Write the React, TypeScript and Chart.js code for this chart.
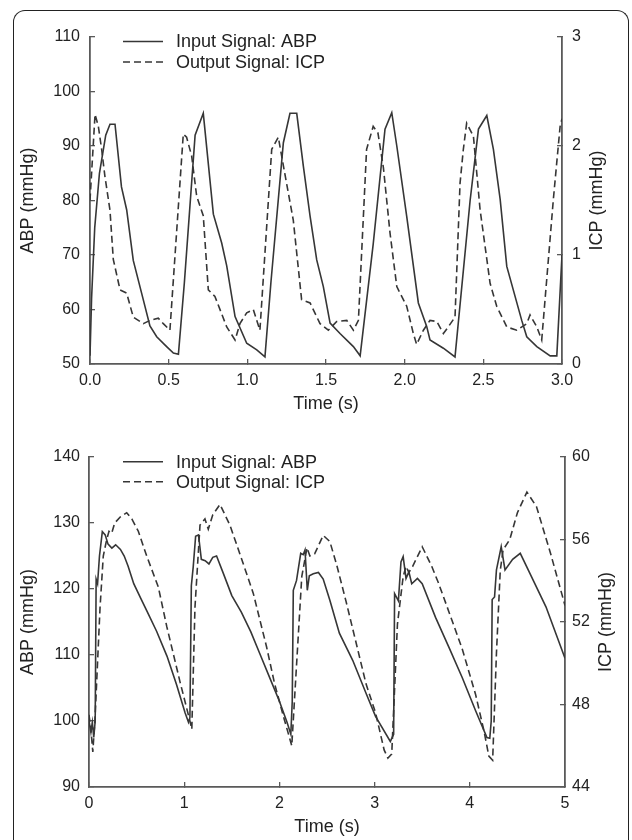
import React, { useEffect, useRef } from 'react';
import { Chart, registerables } from 'chart.js';

Chart.register(...registerables);

// ---------------- data ----------------
// Top panel: 0–3 s
const topAbpTime = [0.00, 0.01, 0.03, 0.06, 0.10, 0.127, 0.159, 0.20, 0.233, 0.275, 0.328, 0.381, 0.424, 0.487, 0.53, 0.562, 0.60, 0.668, 0.72, 0.784, 0.837, 0.869, 0.922, 0.996, 1.06, 1.112, 1.15, 1.229, 1.271, 1.314, 1.356, 1.399, 1.441, 1.483, 1.526, 1.589, 1.674, 1.717, 1.80, 1.875, 1.918, 1.95, 2.013, 2.087, 2.14, 2.161, 2.246, 2.32, 2.416, 2.469, 2.522, 2.564, 2.607, 2.649, 2.744, 2.776, 2.84, 2.925, 2.967, 3.0];
const topAbpValues = [51.5, 62, 75, 85, 92, 94, 94, 82.5, 78.3, 69, 63, 57, 55, 53.2, 52, 51.8, 65, 92, 96, 77.5, 72.2, 68, 58.7, 53.8, 52.6, 51.3, 65, 90.6, 96, 96, 86.3, 77.1, 69.1, 64.2, 57.5, 55.6, 53.2, 51.5, 72, 93.1, 96.1, 90, 77.1, 61.2, 56.9, 54.4, 52.9, 51.3, 80, 93.1, 95.6, 89.4, 80.2, 67.9, 58, 55, 53.2, 51.5, 51.5, 70];

const topIcpTime = [0, 0.032, 0.053, 0.074, 0.095, 0.127, 0.148, 0.191, 0.233, 0.275, 0.339, 0.381, 0.434, 0.466, 0.508, 0.593, 0.614, 0.646, 0.678, 0.72, 0.752, 0.794, 0.869, 0.922, 0.953, 0.996, 1.038, 1.08, 1.155, 1.197, 1.229, 1.292, 1.345, 1.399, 1.462, 1.515, 1.568, 1.632, 1.674, 1.706, 1.758, 1.80, 1.83, 1.865, 1.907, 1.95, 2.013, 2.055, 2.076, 2.119, 2.161, 2.204, 2.246, 2.277, 2.32, 2.352, 2.373, 2.394, 2.437, 2.479, 2.543, 2.585, 2.649, 2.712, 2.776, 2.797, 2.84, 2.871, 2.945, 2.988, 3.0];
const topIcpValues = [1.5, 2.29, 2.18, 1.97, 1.72, 1.41, 0.96, 0.68, 0.65, 0.43, 0.37, 0.40, 0.42, 0.37, 0.31, 2.11, 2.08, 1.91, 1.54, 1.36, 0.68, 0.62, 0.34, 0.22, 0.37, 0.47, 0.50, 0.31, 1.97, 2.08, 1.82, 1.32, 0.59, 0.56, 0.37, 0.31, 0.39, 0.40, 0.31, 0.40, 1.97, 2.18, 2.12, 1.8, 1.2, 0.71, 0.53, 0.28, 0.18, 0.31, 0.40, 0.39, 0.28, 0.34, 0.43, 1.66, 1.97, 2.21, 2.09, 1.42, 0.74, 0.53, 0.34, 0.31, 0.37, 0.45, 0.34, 0.22, 1.51, 2.18, 2.25];

// Bottom panel: 0–5 s
const botAbpTime = [0.00, 0.02, 0.035, 0.05, 0.065, 0.075, 0.09, 0.11, 0.14, 0.17, 0.20, 0.24, 0.28, 0.33, 0.37, 0.41, 0.47, 0.54, 0.61, 0.71, 0.82, 0.92, 1.01, 1.045, 1.06, 1.075, 1.095, 1.12, 1.15, 1.18, 1.22, 1.26, 1.30, 1.34, 1.41, 1.50, 1.60, 1.70, 1.80, 1.90, 2.00, 2.08, 2.12, 2.135, 2.146, 2.18, 2.224, 2.25, 2.269, 2.293, 2.314, 2.356, 2.41, 2.46, 2.53, 2.63, 2.77, 2.91, 3.01, 3.165, 3.2, 3.21, 3.25, 3.277, 3.3, 3.33, 3.36, 3.39, 3.45, 3.5, 3.64, 3.78, 3.92, 4.06, 4.18, 4.21, 4.225, 4.235, 4.26, 4.28, 4.33, 4.37, 4.45, 4.53, 4.63, 4.80, 5.00];
const botAbpValues = [100, 98.3, 99.8, 97.5, 100, 121.5, 120.8, 125, 128.7, 128.2, 126.8, 126.2, 126.7, 126, 125, 123.5, 120.8, 118.7, 116.6, 113.6, 109.8, 105.5, 101.2, 99.8, 100.5, 120.5, 123.4, 128, 128.2, 124.5, 124.3, 123.8, 124.8, 125, 122.4, 119, 116.5, 113.5, 110, 106.5, 103, 99.8, 98, 103, 119.8, 121.3, 125.4, 125.2, 125.9, 119.8, 122, 122.3, 122.5, 121.5, 118.3, 113.3, 109.2, 104.2, 100.7, 96.9, 98, 119.3, 118.2, 124.1, 124.9, 121.6, 122.6, 120.8, 121.6, 120.8, 115.7, 111.2, 106.6, 101.6, 97.5, 97.4, 100, 118.4, 118.8, 122.9, 126.4, 122.9, 124.5, 125.4, 122.4, 117.3, 109.5];

const botIcpTime = [0, 0.02, 0.04, 0.063, 0.116, 0.15, 0.186, 0.21, 0.238, 0.27, 0.33, 0.396, 0.45, 0.518, 0.606, 0.728, 0.816, 0.956, 1.06, 1.08, 1.113, 1.166, 1.218, 1.253, 1.30, 1.376, 1.48, 1.585, 1.725, 1.865, 1.95, 2.05, 2.13, 2.235, 2.29, 2.32, 2.37, 2.46, 2.53, 2.60, 2.70, 2.80, 2.91, 3.01, 3.10, 3.14, 3.18, 3.24, 3.30, 3.33, 3.36, 3.40, 3.50, 3.60, 3.67, 3.78, 3.92, 4.06, 4.15, 4.20, 4.24, 4.28, 4.32, 4.35, 4.42, 4.50, 4.60, 4.70, 4.85, 5.00];
const botIcpValues = [47.5, 46.8, 45.7, 47.3, 52.7, 55.2, 56, 56.4, 56.3, 56.8, 57.1, 57.3, 57, 56.4, 55.2, 53.7, 51.8, 49.1, 47.2, 46.8, 52.7, 56.7, 57, 56.5, 57.2, 57.7, 56.7, 55.3, 53.4, 50.8, 49, 47.3, 46.0, 54.2, 55.6, 55.2, 55.3, 56.2, 55.9, 54.8, 53, 51.1, 49, 47.6, 45.8, 45.4, 45.6, 51.9, 54.2, 54.7, 54.4, 54.7, 55.65, 54.7, 53.9, 52.5, 50.7, 48.5, 46.7, 45.5, 45.3, 50.5, 54.5, 55.5, 56, 57.3, 58.3, 57.6, 55.3, 52.8];

// axis ranges / tick steps: [min, max, step]
const topXRange = [0, 3, 0.5];
const topAbpRange = [50, 110, 10];
const topIcpRange = [0, 3, 1];
const botXRange = [0, 5, 1];
const botAbpRange = [90, 140, 10];
const botIcpRange = [44, 60, 4];

const seriesLabels = ['Input Signal: ABP', 'Output Signal: ICP'];
const xTitle = 'Time (s)';
const abpTitle = 'ABP (mmHg)';
const icpTitle = 'ICP (mmHg)';

// ---------------- styles ----------------
const FONT = '"Liberation Sans", Arial, Helvetica, sans-serif';
const TEXT = '#222222';
const AXIS = '#5a5a5a';
const LINE = '#363636';

function toPoints(t: number[], v: number[]) {
  return t.map((x, i) => ({ x, y: v[i] }));
}

const sigLegend = {
  id: 'sigLegend',
  afterDraw(chart: any, _args: any, opts: any) {
    const ctx = chart.ctx;
    chart.data.datasets.forEach((ds: any, i: number) => {
      const y = opts.rows[i];
      ctx.save();
      ctx.strokeStyle = ds.borderColor;
      ctx.lineWidth = ds.borderWidth;
      ctx.setLineDash(ds.borderDash || []);
      ctx.beginPath();
      ctx.moveTo(opts.x0, y);
      ctx.lineTo(opts.x1, y);
      ctx.stroke();
      ctx.setLineDash([]);
      ctx.fillStyle = TEXT;
      ctx.font = `18px ${FONT}`;
      ctx.textAlign = 'left';
      ctx.textBaseline = 'middle';
      ctx.fillText(ds.label, opts.textX, y + 1);
      ctx.restore();
    });
  },
};

const rightTitle = {
  id: 'rightTitle',
  afterDraw(chart: any, _args: any, opts: any) {
    const sc = chart.scales.y1;
    const ctx = chart.ctx;
    ctx.save();
    ctx.translate(opts.x, (sc.top + sc.bottom) / 2);
    ctx.rotate(-Math.PI / 2);
    ctx.fillStyle = TEXT;
    ctx.font = `18px ${FONT}`;
    ctx.textAlign = 'center';
    ctx.textBaseline = 'middle';
    ctx.fillText(opts.text, 0, 0);
    ctx.restore();
  },
};

function axisBase(range: number[], labelPad: number, fmt?: (v: number) => string) {
  return {
    type: 'linear' as const,
    min: range[0],
    max: range[1],
    grid: { drawOnChartArea: false, drawTicks: true, tickLength: -5, color: AXIS, lineWidth: 1.3 },
    border: { display: true, color: AXIS, width: 1.8 },
    ticks: {
      stepSize: range[2],
      padding: labelPad,
      color: TEXT,
      autoSkip: false,
      maxRotation: 0,
      font: { family: FONT, size: 16 },
      callback: fmt ? (v: any) => fmt(Number(v)) : (v: any) => String(v),
    },
  };
}

interface PanelCfg {
  abpT: number[]; abpV: number[]; icpT: number[]; icpV: number[];
  xRange: number[]; abpRange: number[]; icpRange: number[];
  xFmt: (v: number) => string;
  padTop: number; leftW: number; rightW: number; xH: number;
  xTitlePad: number; leftTitlePad: number; rightTitleX: number;
  leftTickPad: number; rightTickPad: number; xTickPad: number;
  legendRows: number[];
}

function buildConfig(p: PanelCfg): any {
  const x: any = axisBase(p.xRange, p.xTickPad, p.xFmt);
  x.position = 'bottom';
  x.afterFit = (s: any) => { s.height = p.xH; };
  x.title = { display: true, text: xTitle, color: TEXT, font: { family: FONT, size: 18 }, padding: { top: 0, bottom: p.xTitlePad } };

  const y: any = axisBase(p.abpRange, p.leftTickPad);
  y.position = 'left';
  y.afterFit = (s: any) => { s.width = p.leftW; };
  y.title = { display: true, text: abpTitle, color: TEXT, font: { family: FONT, size: 18 }, padding: { top: p.leftTitlePad, bottom: 0 } };

  const y1: any = axisBase(p.icpRange, p.rightTickPad);
  y1.position = 'right';
  y1.afterFit = (s: any) => { s.width = p.rightW; };

  return {
    type: 'line',
    data: {
      datasets: [
        { label: seriesLabels[0], data: toPoints(p.abpT, p.abpV), yAxisID: 'y', borderColor: LINE, borderWidth: 1.6, pointRadius: 0, tension: 0, fill: false },
        { label: seriesLabels[1], data: toPoints(p.icpT, p.icpV), yAxisID: 'y1', borderColor: LINE, borderWidth: 1.6, borderDash: [7, 4], pointRadius: 0, tension: 0, fill: false },
      ],
    },
    options: {
      responsive: false,
      animation: false,
      devicePixelRatio: 1,
      layout: { padding: { top: p.padTop, left: 0, right: 0, bottom: 0 } },
      plugins: {
        legend: { display: false },
        tooltip: { enabled: false },
        sigLegend: { rows: p.legendRows, x0: 123, x1: 163, textX: 176 },
        rightTitle: { text: icpTitle, x: p.rightTitleX },
      },
      scales: { x, y, y1 },
    },
    plugins: [sigLegend, rightTitle],
  };
}

export default function App() {
  const topRef = useRef<HTMLCanvasElement | null>(null);
  const botRef = useRef<HTMLCanvasElement | null>(null);

  useEffect(() => {
    const top = new Chart(topRef.current as HTMLCanvasElement, buildConfig({
      abpT: topAbpTime, abpV: topAbpValues, icpT: topIcpTime, icpV: topIcpValues,
      xRange: topXRange, abpRange: topAbpRange, icpRange: topIcpRange,
      xFmt: (v) => v.toFixed(1),
      padTop: 37, leftW: 90, rightW: 70, xH: 56,
      xTitlePad: 5, leftTitlePad: 17, rightTitleX: 597,
      leftTickPad: 15, rightTickPad: 15, xTickPad: 12,
      legendRows: [41.5, 62],
    }));
    const bot = new Chart(botRef.current as HTMLCanvasElement, buildConfig({
      abpT: botAbpTime, abpV: botAbpValues, icpT: botIcpTime, icpV: botIcpValues,
      xRange: botXRange, abpRange: botAbpRange, icpRange: botIcpRange,
      xFmt: (v) => String(Math.round(v)),
      padTop: 37, leftW: 89, rightW: 67, xH: 53,
      xTitlePad: 2, leftTitlePad: 17, rightTitleX: 606,
      leftTickPad: 14, rightTickPad: 12, xTickPad: 12,
      legendRows: [41.7, 61.7],
    }));
    return () => { top.destroy(); bot.destroy(); };
  }, []);

  return (
    <div style={{ position: 'absolute', left: 0, top: 0, width: 632, height: 840, overflow: 'hidden', background: '#fff' }}>
      <div style={{ position: 'absolute', left: 13, top: 10, width: 616, height: 900, border: '1.5px solid #222', borderBottom: 'none', borderRadius: '12px 12px 0 0', boxSizing: 'border-box' }} />
      <canvas ref={topRef} width={632} height={420} style={{ position: 'absolute', left: 0, top: 0, display: 'block' }} />
      <canvas ref={botRef} width={632} height={420} style={{ position: 'absolute', left: 0, top: 420, display: 'block' }} />
    </div>
  );
}
